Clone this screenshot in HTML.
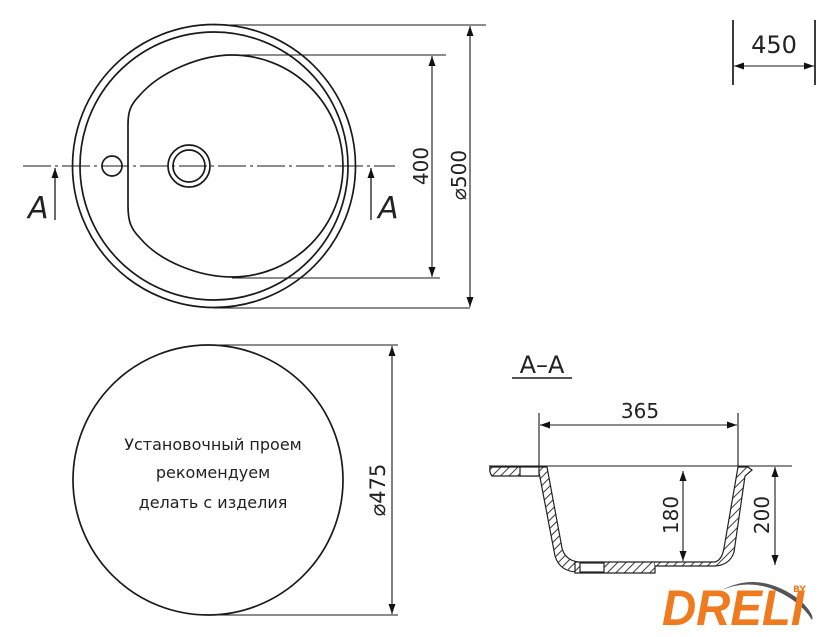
<!DOCTYPE html>
<html><head><meta charset="utf-8"><style>
html,body{margin:0;padding:0;background:#fff;}
svg{display:block;}
text{font-family:"DejaVu Sans","Liberation Sans",sans-serif;fill:#222;}
</style></head><body>
<svg width="840" height="637" viewBox="0 0 840 637" xmlns="http://www.w3.org/2000/svg">
<defs>
<marker id="ar" viewBox="0 0 10 10" refX="10" refY="5" markerWidth="12" markerHeight="10" markerUnits="userSpaceOnUse" orient="auto-start-reverse"><path d="M0,1.5 L10,5 L0,8.5 z" fill="#111"/></marker>
<pattern id="hatch" width="6" height="6" patternUnits="userSpaceOnUse" patternTransform="rotate(45)"><rect width="6" height="6" fill="#fff"/><line x1="0" y1="0" x2="0" y2="6" stroke="#222" stroke-width="1.8"/></pattern>
</defs>
<g fill="none" stroke="#1a1a1a" stroke-width="1.7">
<circle cx="214" cy="166" r="141.5"/>
<circle cx="214" cy="166" r="134"/>
<path d="M232,55 A111,111 0 1 1 232,277 C200,277 160,262 140,238 C130,228 128,220 128,205 L128,125 C128,112 130,105 140,95 C160,72 200,55 232,55 Z"/>
<circle cx="189" cy="166" r="21"/>
<circle cx="189" cy="166" r="16"/>
<circle cx="112" cy="166" r="10"/>
<line x1="23" y1="166" x2="395" y2="166" stroke-width="1.1" stroke-dasharray="28,4,3,4"/>
<line x1="214" y1="25" x2="486" y2="25" stroke-width="1.1"/>
<line x1="232" y1="55" x2="446" y2="55" stroke-width="1.1"/>
<line x1="232" y1="278" x2="440" y2="278" stroke-width="1.1"/>
<line x1="214" y1="308" x2="470" y2="308" stroke-width="1.1"/>
<line x1="470" y1="26" x2="470" y2="307" stroke-width="1.1" marker-start="url(#ar)" marker-end="url(#ar)"/>
<line x1="432" y1="56" x2="432" y2="277" stroke-width="1.1" marker-start="url(#ar)" marker-end="url(#ar)"/>
<line x1="55" y1="220" x2="55" y2="168" stroke-width="1.3" marker-end="url(#ar)"/>
<line x1="371" y1="220" x2="371" y2="168" stroke-width="1.3" marker-end="url(#ar)"/>
<line x1="733" y1="20" x2="733" y2="85" stroke-width="1.7"/>
<line x1="815" y1="20" x2="815" y2="85" stroke-width="1.7"/>
<line x1="734" y1="66" x2="814" y2="66" stroke-width="1.1" marker-start="url(#ar)" marker-end="url(#ar)"/>
<circle cx="208" cy="480" r="135"/>
<line x1="208" y1="345" x2="398" y2="345" stroke-width="1.1"/>
<line x1="208" y1="615" x2="398" y2="615" stroke-width="1.1"/>
<line x1="392" y1="346" x2="392" y2="614" stroke-width="1.1" marker-start="url(#ar)" marker-end="url(#ar)"/>
<line x1="512" y1="378" x2="572" y2="378" stroke-width="1.4"/>
<line x1="539" y1="413" x2="539" y2="467" stroke-width="1.1"/>
<line x1="738" y1="413" x2="738" y2="467" stroke-width="1.1"/>
<line x1="540" y1="425" x2="737" y2="425" stroke-width="1.1" marker-start="url(#ar)" marker-end="url(#ar)"/>
<line x1="489" y1="466" x2="792" y2="466" stroke-width="1.1"/>
<line x1="683" y1="471" x2="683" y2="561" stroke-width="1.1" marker-start="url(#ar)" marker-end="url(#ar)"/>
<line x1="775" y1="467" x2="775" y2="565" stroke-width="1.1" marker-start="url(#ar)" marker-end="url(#ar)"/>
</g>
<g stroke="#222" stroke-width="1.2">
<path d="M490,467 L540,467 L540,476 L492,476 Q489,472 490,467 Z" fill="url(#hatch)"/>
<path d="M538,467 L547,467 L562,548 Q565,560 578,562 L578,572 Q560,572 555,556 Z" fill="url(#hatch)"/>
<path d="M575,562 L655,562 L655,573 L575,573 Z" fill="url(#hatch)"/>
<path d="M655,562 L715,562 Q722,560 724,548 L738,467 L748,467 L752,470 L745,476 L734,552 Q730,565 715,566 L655,566" fill="url(#hatch)"/>
<rect x="520" y="467" width="19" height="9" fill="#fff"/>
<rect x="580" y="563" width="24" height="9" fill="#fff"/>
</g>
<text x="28" y="218" font-size="30" font-style="italic">A</text>
<text x="378" y="218" font-size="30" font-style="italic">A</text>
<text transform="translate(428,166) rotate(-90)" font-size="20" text-anchor="middle">400</text>
<text transform="translate(466,175) rotate(-90)" font-size="20" text-anchor="middle">⌀500</text>
<text x="774" y="53" font-size="24" text-anchor="middle">450</text>
<text x="213" y="450" font-size="16" text-anchor="middle">Установочный проем</text>
<text x="213" y="478" font-size="16" text-anchor="middle">рекомендуем</text>
<text x="213" y="508" font-size="16" text-anchor="middle">делать с изделия</text>
<text transform="translate(385,490) rotate(-90)" font-size="21" text-anchor="middle">⌀475</text>
<text x="542" y="373" font-size="24" text-anchor="middle">A–A</text>
<text x="640" y="418" font-size="20" text-anchor="middle">365</text>
<text transform="translate(678,515) rotate(-90)" font-size="20" text-anchor="middle">180</text>
<text transform="translate(769,515) rotate(-90)" font-size="20" text-anchor="middle">200</text>
<path d="M722,590 Q760,570 800,600 Q815,615 812,620 Q800,600 770,588 Q745,580 722,590 Z" fill="#555"/>
<text x="662" y="625" font-size="50" font-weight="bold" font-style="italic" textLength="142" lengthAdjust="spacingAndGlyphs" style="fill:#f07a1e;font-family:'Liberation Sans',sans-serif">DRELI</text>
<text x="793" y="592" font-size="9" font-weight="bold" style="fill:#f07a1e">BY</text>
</svg>
</body></html>
